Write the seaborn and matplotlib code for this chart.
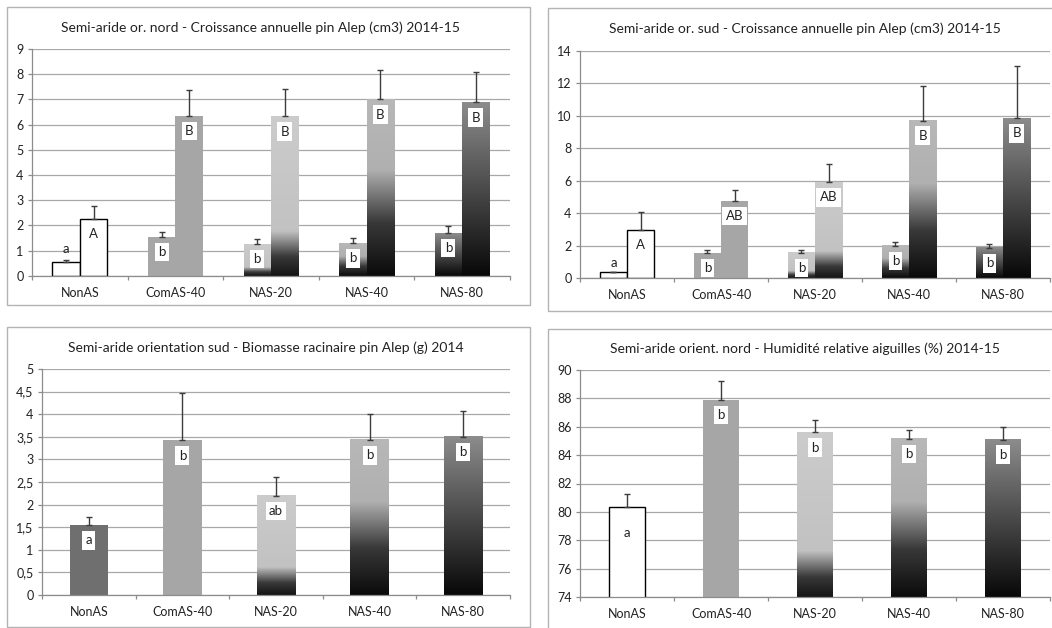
import matplotlib
matplotlib.use('Agg')
import matplotlib.pyplot as plt
from matplotlib.patches import Rectangle
from matplotlib.colors import LinearSegmentedColormap
from matplotlib.ticker import FuncFormatter, FixedLocator
import numpy as np
import pandas as pd
import seaborn as sns

traitements = ['NonAS', 'ComAS-40', 'NAS-20', 'NAS-40', 'NAS-80']
mesures = ['2014', '2015']

# semi-aride or. nord - croissance annuelle (cm3)
nord_1 = [0.55, 1.55, 1.27, 1.30, 1.70]
nord_1_err = [0.06, 0.20, 0.18, 0.18, 0.27]
nord_2 = [2.25, 6.35, 6.33, 7.00, 6.88]
nord_2_err = [0.50, 1.03, 1.09, 1.15, 1.22]
nord_lettres_1 = ['a', 'b', 'b', 'b', 'b']
nord_lettres_2 = ['A', 'B', 'B', 'B', 'B']

# semi-aride or. sud - croissance annuelle (cm3)
sud_1 = [0.40, 1.55, 1.55, 2.00, 1.85]
sud_1_err = [0.0, 0.17, 0.17, 0.22, 0.27]
sud_2 = [2.95, 4.75, 5.90, 9.70, 9.85]
sud_2_err = [1.10, 0.70, 1.15, 2.15, 3.20]
sud_lettres_1 = ['a', 'b', 'b', 'b', 'b']
sud_lettres_2 = ['A', 'AB', 'AB', 'B', 'B']

# biomasse racinaire (g) 2014
biomasse = [1.55, 3.42, 2.20, 3.43, 3.50]
biomasse_err = [0.17, 1.06, 0.40, 0.57, 0.58]
biomasse_lettres = ['a', 'b', 'ab', 'b', 'b']

# humidite relative aiguilles (%)
humidite = [80.35, 87.9, 85.6, 85.15, 85.1]
humidite_err = [0.9, 1.3, 0.9, 0.65, 0.9]
humidite_lettres = ['a', 'b', 'b', 'b', 'b']

sns.set_style('white')
plt.rcParams['font.family'] = ['Lato', 'DejaVu Sans']

W, H = 1052, 628
fig = plt.figure(figsize=(W / 100, H / 100), dpi=100)

# gradients (fraction depuis le bas, niveau de gris)
degrades = {
    'NAS-20': [(0, 0.08), (0.12, 0.22), (0.28, 0.76), (1, 0.80)],
    'NAS-40': [(0, 0.04), (0.3, 0.22), (0.6, 0.69), (1, 0.72)],
    'NAS-80': [(0, 0.03), (1, 0.55)],
}


def px_axes(x0, y0, x1, y1):
    return fig.add_axes([x0 / W, 1 - y1 / H, (x1 - x0) / W, (y1 - y0) / H])


def habiller(ax, patch, cat, ymin, couleur_nonas):
    if cat == 'NonAS':
        patch.set_facecolor(couleur_nonas)
        patch.set_edgecolor('black' if couleur_nonas == 'white' else 'none')
        patch.set_linewidth(1)
    elif cat == 'ComAS-40':
        patch.set_facecolor('#a6a6a6')
        patch.set_edgecolor('none')
    else:
        x0, w = patch.get_x(), patch.get_width()
        top = patch.get_y() + patch.get_height()
        bot = max(patch.get_y(), ymin)
        cmap = LinearSegmentedColormap.from_list(cat, [(f, (g, g, g)) for f, g in degrades[cat]])
        grad = np.linspace(0, 1, 256).reshape(-1, 1)
        ax.imshow(grad, cmap=cmap, vmin=0, vmax=1, extent=[x0, x0 + w, bot, top],
                  origin='lower', aspect='auto', zorder=1.5, interpolation='bilinear')
        patch.set_facecolor('none')
        patch.set_edgecolor('none')


def panneau(ax, titre, series, errs, lettres, ylim, pas, largeur,
            couleur_nonas='white', decal=None, virgule=False):
    df = pd.DataFrame({
        'traitement': traitements * len(series),
        'valeur': sum(series, []),
        'mesure': sum([[m] * len(traitements) for m in mesures[:len(series)]], []),
    })
    if len(series) > 1:
        sns.barplot(data=df, x='traitement', y='valeur', hue='mesure', width=largeur,
                    errorbar=None, legend=False, ax=ax, palette=['#a6a6a6'] * len(series),
                    gap=0)
    else:
        sns.barplot(data=df, x='traitement', y='valeur', width=largeur,
                    errorbar=None, ax=ax, color='#a6a6a6')
    ax.set_axisbelow(True)
    decal = decal or {}
    barres = list(ax.containers)
    for k, cont in enumerate(barres):
        for i, patch in enumerate(cont.patches):
            cat = traitements[i]
            habiller(ax, patch, cat, ylim[0], couleur_nonas)
            xc = patch.get_x() + patch.get_width() / 2
            y = series[k][i]
            ax.errorbar([xc], [y], yerr=[[0], [errs[k][i]]], fmt='none', ecolor='#3c3c3c',
                        elinewidth=1, capsize=2.2, capthick=1, zorder=3)
            lt = lettres[k][i]
            dy = decal.get((k, i), -11)
            box = None
            if not (cat == 'NonAS' and couleur_nonas == 'white'):
                box = dict(boxstyle='square,pad=0.25', fc='white', ec='none')
            ax.annotate(lt, (xc, y), xytext=(0, dy), textcoords='offset points',
                        ha='center', va='center', fontsize=9.5, color='#222222',
                        bbox=box, zorder=4)
    ax.set_xlim(-0.5, len(traitements) - 0.5)
    ax.set_ylim(*ylim)
    ax.yaxis.set_major_locator(FixedLocator(np.arange(ylim[0], ylim[1] + pas / 2, pas)))
    if virgule:
        ax.yaxis.set_major_formatter(FuncFormatter(lambda v, p: f'{v:g}'.replace('.', ',')))
    else:
        ax.yaxis.set_major_formatter(FuncFormatter(lambda v, p: f'{v:g}'))
    ax.grid(axis='y', color='#a8a8a8', linewidth=0.9)
    ax.grid(axis='x', visible=False)
    ax.set_xlabel('')
    ax.set_ylabel('')
    ax.set_title(titre, fontsize=10, color='#222222', x=0.478, pad=12.5)
    for s in ['top', 'right']:
        ax.spines[s].set_visible(False)
    for s in ['left', 'bottom']:
        ax.spines[s].set_color('#8c8c8c')
        ax.spines[s].set_linewidth(0.9)
    ax.xaxis.set_minor_locator(FixedLocator(np.arange(-0.5, len(traitements), 1)))
    ax.tick_params(axis='x', which='major', length=0, pad=8, labelsize=9, labelcolor='#222222')
    ax.tick_params(axis='x', which='minor', length=3, width=0.9, color='#8c8c8c', direction='out')
    ax.tick_params(axis='y', length=3, width=0.9, color='#8c8c8c', direction='out', pad=3,
                   labelsize=9, labelcolor='#222222', left=True)
    ax.tick_params(axis='x', bottom=True, which='minor')


# cadres des panneaux
for x0, y0, x1, y1 in [(7, 7, 530, 305), (548, 8, 1060, 311), (7, 327, 530, 627), (548, 329, 1060, 640)]:
    fig.add_artist(Rectangle((x0 / W, 1 - y1 / H), (x1 - x0) / W, (y1 - y0) / H,
                             transform=fig.transFigure, fill=False, ec='#b3b3b3', lw=1))

ax1 = px_axes(32, 49, 510, 275.7)
panneau(ax1, 'Semi-aride or. nord - Croissance annuelle pin Alep (cm3) 2014-15',
        [nord_1, nord_2], [nord_1_err, nord_2_err], [nord_lettres_1, nord_lettres_2],
        (0, 9), 1, 0.575, decal={(0, 0): 9})

ax2 = px_axes(580, 50.7, 1050, 278)
panneau(ax2, 'Semi-aride or. sud - Croissance annuelle pin Alep (cm3) 2014-15',
        [sud_1, sud_2], [sud_1_err, sud_2_err], [sud_lettres_1, sud_lettres_2],
        (0, 14), 2, 0.575, decal={(0, 0): 6})

ax3 = px_axes(42, 369, 510, 595)
panneau(ax3, 'Semi-aride orientation sud - Biomasse racinaire pin Alep (g) 2014',
        [biomasse], [biomasse_err], [biomasse_lettres],
        (0, 5), 0.5, 0.41, couleur_nonas='#6f6f6f', virgule=True)

ax4 = px_axes(580, 370, 1050, 597)
panneau(ax4, 'Semi-aride orient. nord - Humidité relative aiguilles (%) 2014-15',
        [humidite], [humidite_err], [humidite_lettres],
        (74, 90), 2, 0.38, decal={(0, 0): -19})

fig.savefig('out.png', dpi=100)
